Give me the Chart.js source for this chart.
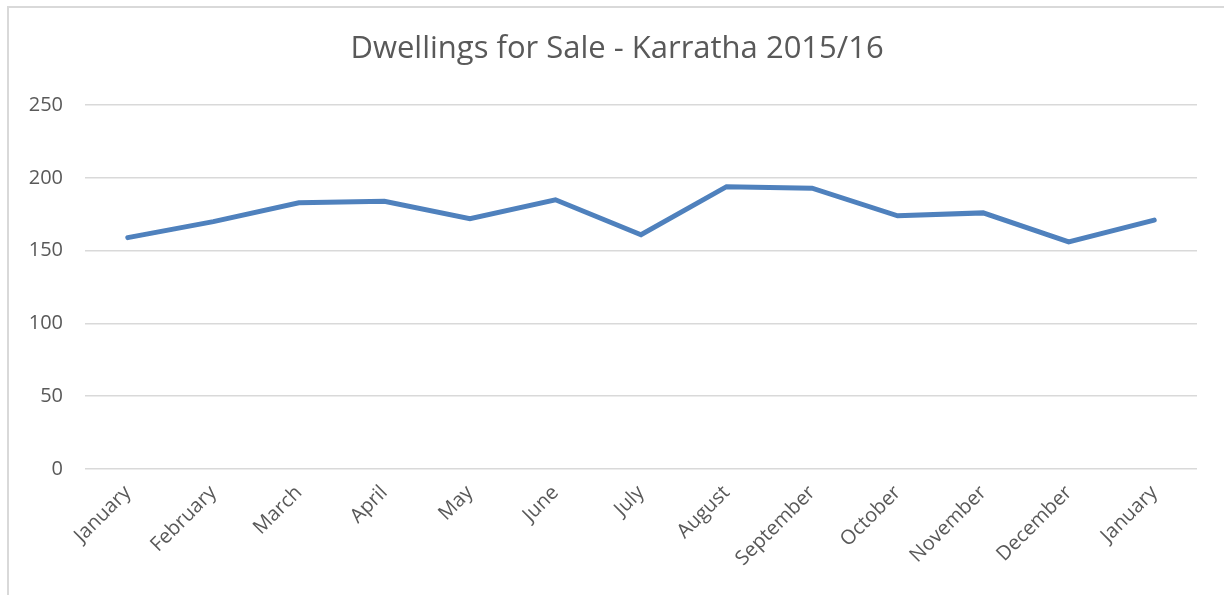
<!DOCTYPE html>
<html>
<head>
<meta charset="utf-8">
<title>Dwellings for Sale - Karratha 2015/16</title>
<script src="https://cdn.jsdelivr.net/npm/chart.js@4/dist/chart.umd.min.js"></script>
<style>
    html, body {
        margin: 0;
        padding: 0;
        background: #ffffff;
        overflow: hidden;
    }
    #frame {
        position: absolute;
        left: 7px;
        top: 6px;
        width: 1240px;
        height: 620px;
        border-left: 2px solid #d9d9d9;
        border-top: 2px solid #d9d9d9;
    }
    #wrap {
        position: absolute;
        left: 0;
        top: 0;
        width: 1224px;
        height: 595px;
    }
</style>
</head>
<body>
<div id="frame"></div>
<div id="wrap"><canvas id="dwellings-chart"></canvas></div>
<script>
// Données du graphique
const months = ['January', 'February', 'March', 'April', 'May', 'June', 'July',
    'August', 'September', 'October', 'November', 'December', 'January'];
const dwellingsForSale = [159, 170, 183, 184, 172, 185, 161, 194, 193, 174, 176, 156, 171];
const yTicks = [0, 50, 100, 150, 200, 250];

const textColor = '#595959';
const gridColor = '#d9d9d9';

const ctx = document.getElementById('dwellings-chart').getContext('2d');

new Chart(ctx, {
    type: 'line',
    data: {
        labels: months,
        datasets: [{
            label: 'Dwellings for Sale',
            data: dwellingsForSale,
            borderColor: '#4f81bd',
            borderWidth: 5,
            borderCapStyle: 'round',
            borderJoinStyle: 'miter',
            pointRadius: 0,
            tension: 0,
            fill: false
        }]
    },
    options: {
        responsive: true,
        maintainAspectRatio: false,
        animation: false,
        layout: {
            padding: { left: 10, right: 0, top: 8, bottom: 0 }
        },
        plugins: {
            legend: { display: false },
            tooltip: { enabled: false },
            title: {
                display: true,
                text: 'Dwellings for Sale - Karratha 2015/16',
                color: textColor,
                font: { family: '"Open Sans"', size: 31, weight: 'normal' },
                padding: { top: 23, bottom: 37 }
            }
        },
        scales: {
            x: {
                offset: true,
                grid: { display: false, drawTicks: false },
                border: { display: false },
                ticks: {
                    color: textColor,
                    font: { family: '"Open Sans"', size: 20 },
                    minRotation: 45,
                    maxRotation: 45,
                    autoSkip: false,
                    padding: 12
                },
                afterFit: function(scale) {
                    scale.height = 126;
                }
            },
            y: {
                min: 0,
                max: 250,
                grid: { color: gridColor, lineWidth: 1.5, drawTicks: false },
                border: { display: false },
                afterBuildTicks: function(scale) {
                    scale.ticks = yTicks.map(v => ({ value: v }));
                },
                ticks: {
                    color: textColor,
                    font: { family: '"Open Sans"', size: 20 },
                    padding: 22
                },
                afterFit: function(scale) {
                    scale.width = 75;
                }
            },
            // axe vide à droite : garde la marge droite sans décentrer le titre
            spacer: {
                type: 'linear',
                position: 'right',
                grid: { display: false, drawTicks: false },
                border: { display: false },
                ticks: { display: false },
                afterFit: function(scale) {
                    scale.width = 27;
                }
            }
        }
    }
});
</script>
</body>
</html>
